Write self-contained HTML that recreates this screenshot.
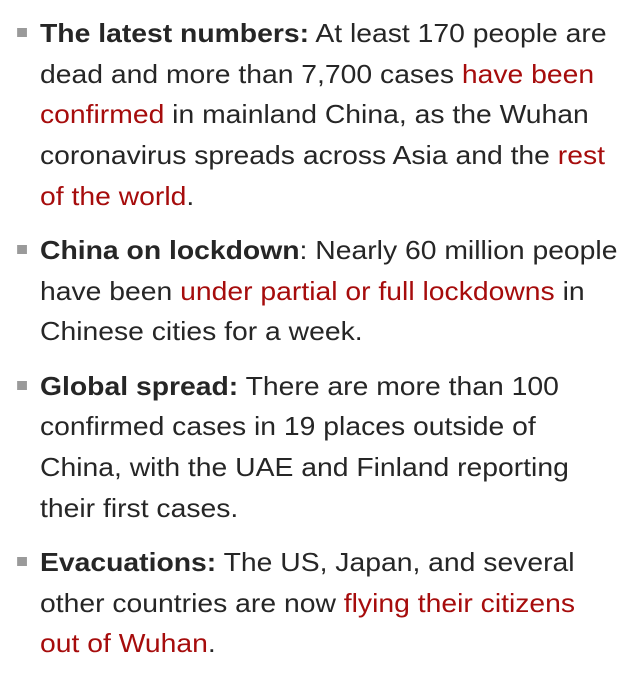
<!DOCTYPE html>
<html><head><meta charset="utf-8"><style>
html,body{margin:0;padding:0;background:#fff;width:640px;height:687px;overflow:hidden}
body{font-family:"Liberation Sans",Arial,sans-serif;color:#262626;font-size:26px;line-height:40.7px}
ul{list-style:none;margin:0;padding:0;position:absolute;left:40px;top:13px;transform:scaleX(1.089);transform-origin:0 0}
li{position:relative;margin-bottom:13.5px;white-space:nowrap}
li::before{content:"";position:absolute;left:-21px;top:15px;width:8.5px;height:9px;background:#9a9a9a}
b{font-weight:bold}
a{color:#a60c0c;text-decoration:none}
</style></head><body>
<ul>
<li><b>The latest numbers:</b> At least 170 people are<br>dead and more than 7,700 cases <a href="#">have been<br>confirmed</a> in mainland China, as the Wuhan<br>coronavirus spreads across Asia and the <a href="#">rest<br>of the world</a>.</li>
<li><b>China on lockdown</b>: Nearly 60 million people<br>have been <a href="#">under partial or full lockdowns</a> in<br>Chinese cities for a week.</li>
<li><b>Global spread:</b> There are more than 100<br>confirmed cases in 19 places outside of<br>China, with the UAE and Finland reporting<br>their first cases.</li>
<li><b>Evacuations:</b> The US, Japan, and several<br>other countries are now <a href="#">flying their citizens<br>out of Wuhan</a>.</li>
</ul>
</body></html>
